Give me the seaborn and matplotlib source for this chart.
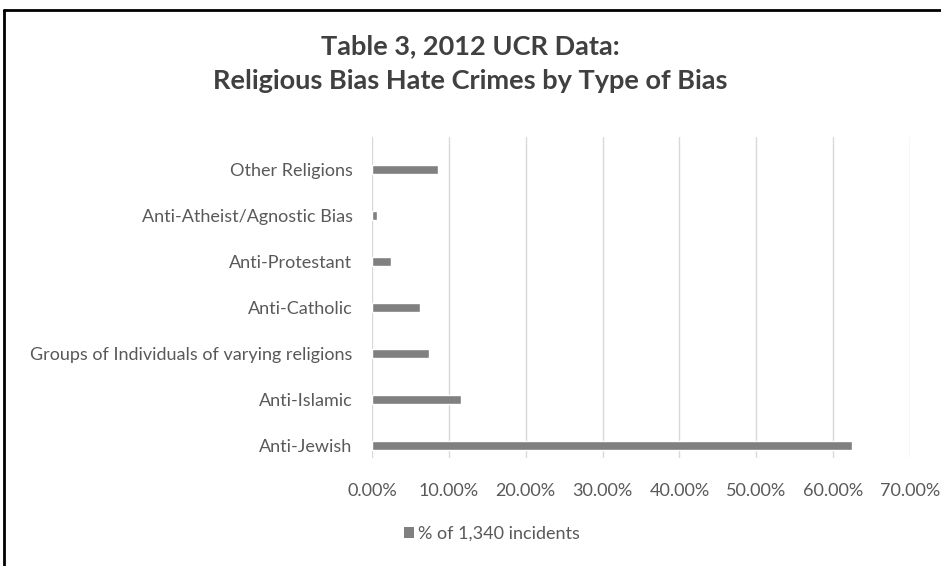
import matplotlib
matplotlib.use("Agg")
import matplotlib.pyplot as plt
import seaborn as sns
import pandas as pd
from matplotlib.lines import Line2D
from matplotlib.patches import Patch
from matplotlib.ticker import FuncFormatter, MultipleLocator

categories = [
    "Other Religions",
    "Anti-Atheist/Agnostic Bias",
    "Anti-Protestant",
    "Anti-Catholic",
    "Groups of Individuals of varying religions",
    "Anti-Islamic",
    "Anti-Jewish",
]
values = [8.6, 0.7, 2.5, 6.3, 7.4, 11.6, 62.4]
series_name = "% of 1,340 incidents"
title_lines = ["Table 3, 2012 UCR Data:", "Religious Bias Hate Crimes by Type of Bias"]

sns.set_theme(style="white")
plt.rcParams["font.family"] = ["Lato", "DejaVu Sans"]

df = pd.DataFrame({"category": categories, "value": values})

W, H = 941, 566
top_px, bot_px = 137, 458
fig = plt.figure(figsize=(W / 100, H / 100), dpi=100)
ax = fig.add_axes([372 / W, 1 - bot_px / H, (910 - 372) / W, (bot_px - top_px) / H])

sns.barplot(data=df, x="value", y="category", order=categories, color="#808080",
            saturation=1, width=0.19, ax=ax, orient="h")

ax.set_xlim(0, 70)
ax.set_ylim(6.27, -0.70)
ax.xaxis.set_major_locator(MultipleLocator(10))
ax.xaxis.set_major_formatter(FuncFormatter(lambda v, p: f"{v:.2f}%"))
ax.grid(axis="x", color="#d9d9d9", linewidth=1)
ax.set_axisbelow(True)
for s in ax.spines.values():
    s.set_visible(False)
ax.set_xlabel("")
ax.set_ylabel("")
ax.tick_params(axis="y", length=0, pad=14, labelsize=13, labelcolor="#595959")
ax.tick_params(axis="x", length=0, pad=18, labelsize=13, labelcolor="#595959")

fig.text(0.5, 1 - 54 / H, title_lines[0], ha="center", va="baseline",
         fontsize=19.5, fontweight="bold", color="#404040")
fig.text(0.5, 1 - 89 / H, title_lines[1], ha="center", va="baseline",
         fontsize=19.5, fontweight="bold", color="#404040")

handle = Patch(facecolor="#808080", edgecolor="none")
fig.legend([handle], [series_name], loc="center", bbox_to_anchor=(492 / W, 1 - 534 / H),
           frameon=False, fontsize=13, labelcolor="#595959", handlelength=0.55,
           handleheight=0.55, handletextpad=0.25)

# outer frame lines (top and left)
fig.add_artist(Line2D([4 / W, 1.0], [1 - 10 / H, 1 - 10 / H], transform=fig.transFigure,
                      color="black", linewidth=2))
fig.add_artist(Line2D([4 / W, 4 / W], [1 - 10 / H, 0], transform=fig.transFigure,
                      color="black", linewidth=2))

fig.savefig("out.png", dpi=100, facecolor="white")
